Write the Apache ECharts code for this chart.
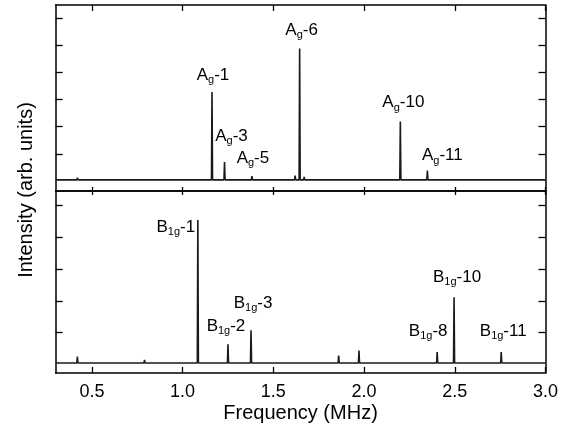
<!DOCTYPE html>
<html><head><meta charset="utf-8">
<script src="https://cdn.jsdelivr.net/npm/echarts@6/dist/echarts.min.js"></script>
<style>html,body{margin:0;padding:0;background:#fff}#c{width:575px;height:438px}</style>
</head><body><div id="c"></div>
<script>
// ---- data ----
const xTicks = [0.5, 1.0, 1.5, 2.0, 2.5, 3.0];
const topYTicks = [1, 2, 3, 4, 5, 6];
const botYTicks = [1, 2, 3, 4, 5];
const baseTop = 0.04;
const baseBot = 0.05;
const agFreq = [1.162, 1.231, 1.382, 1.645, 2.200, 2.349];
const agHeight = [3.28, 0.70, 0.18, 4.89, 2.19, 0.38];
const agName = ['1', '3', '5', '6', '10', '11'];
const agMinorFreq = [0.42, 1.62, 1.67, 2.30];
const agMinorHeight = [0.12, 0.20, 0.15, 0.10];
const b1gFreq = [1.084, 1.250, 1.377, 2.403, 2.496, 2.756];
const b1gHeight = [4.53, 0.64, 1.08, 0.39, 2.11, 0.39];
const b1gName = ['1', '2', '3', '8', '10', '11'];
const b1gMinorFreq = [0.42, 0.79, 1.86, 1.972];
const b1gMinorHeight = [0.25, 0.15, 0.28, 0.44];

// ---- label placement (pixel offsets from peak tops) ----
const agOffsets = [[1, -17], [7, -26], [1, -18], [2, -18], [3, -19], [15, -15]];
const b1gOffsets = [[-22, 7], [-2, -18], [2, -27], [-9, -21], [3, -20], [2, -21]];

const FONT = '"Liberation Sans", Arial, Helvetica, sans-serif';
const INK = '#000';

function spectrum(base, freqs, heights, minorF, minorH) {
  const peaks = freqs.map((f, i) => [f, heights[i]])
    .concat(minorF.map((f, i) => [f, minorH[i]]))
    .sort((a, b) => a[0] - b[0]);
  const hw = 0.003;
  const pts = [[0.3, base]];
  peaks.forEach(([f, h]) => { pts.push([f - hw, base], [f, h], [f + hw, base]); });
  pts.push([3.0, base]);
  return pts;
}

const rich = {
  m: { fontSize: 17, fontFamily: FONT, color: INK, lineHeight: 18, textBorderWidth: 0 },
  s: { fontSize: 11, fontFamily: FONT, color: INK, lineHeight: 12, padding: [10, 0, 0, 0], textBorderWidth: 0 }
};

function labelData(freqs, heights, names, sym, sub, offsets) {
  return freqs.map((f, i) => ({
    value: [f, heights[i]],
    label: { offset: offsets[i], formatter: '{m|' + sym + '}{s|' + sub + '}{m|-' + names[i] + '}' }
  }));
}

const lineStyle = { color: INK, width: 1.5 };
const tickStyle = { color: INK, width: 1.3 };

function xAx(grid, pos, len, labels) {
  const ax = {
    gridIndex: grid, type: 'value', min: 0.3, max: 3.0, position: pos,
    axisLine: { show: true, onZero: false, lineStyle: lineStyle },
    axisTick: { show: true, inside: true, length: len, customValues: xTicks, lineStyle: tickStyle },
    axisLabel: { show: false },
    splitLine: { show: false }
  };
  if (labels) {
    ax.axisLabel = {
      show: true, customValues: xTicks, margin: 10,
      formatter: v => Number(v).toFixed(1),
      fontSize: 18, fontFamily: FONT, color: INK
    };
    ax.name = 'Frequency (MHz)';
    ax.nameLocation = 'middle';
    ax.nameGap = 30;
    ax.nameTextStyle = { fontSize: 20, fontFamily: FONT, color: INK };
  }
  return ax;
}

function yAx(grid, pos, min, max, ticks) {
  return {
    gridIndex: grid, type: 'value', min: min, max: max, position: pos,
    axisLine: { show: true, onZero: false, lineStyle: lineStyle },
    axisTick: { show: true, inside: true, length: 7, customValues: ticks, lineStyle: tickStyle },
    axisLabel: { show: false },
    splitLine: { show: false }
  };
}

const chart = echarts.init(document.getElementById('c'), null, { renderer: 'canvas' });
chart.setOption({
  animation: false,
  backgroundColor: '#fff',
  grid: [
    { left: 55.6, top: 5, width: 489.9, height: 186 },
    { left: 55.6, top: 191, width: 489.9, height: 182 }
  ],
  xAxis: [
    xAx(0, 'bottom', 4, false),
    xAx(0, 'top', 6, false),
    xAx(1, 'bottom', 6, true),
    xAx(1, 'top', 4, false)
  ],
  yAxis: [
    yAx(0, 'left', -0.37, 6.49, topYTicks),
    yAx(0, 'right', -0.37, 6.49, topYTicks),
    yAx(1, 'left', -0.263, 5.44, botYTicks),
    yAx(1, 'right', -0.263, 5.44, botYTicks)
  ],
  graphic: [{
    type: 'text', x: 26, y: 190, rotation: Math.PI / 2,
    style: { text: 'Intensity (arb. units)', fontSize: 20, fontFamily: FONT, fill: INK, align: 'center', verticalAlign: 'middle' }
  }],
  series: [
    {
      type: 'line', xAxisIndex: 0, yAxisIndex: 0, showSymbol: false, symbol: 'none',
      lineStyle: { color: '#1a1a1a', width: 1.6 },
      data: spectrum(baseTop, agFreq, agHeight, agMinorFreq, agMinorHeight)
    },
    {
      type: 'line', xAxisIndex: 2, yAxisIndex: 2, showSymbol: false, symbol: 'none',
      lineStyle: { color: '#1a1a1a', width: 1.6 },
      data: spectrum(baseBot, b1gFreq, b1gHeight, b1gMinorFreq, b1gMinorHeight)
    },
    {
      type: 'scatter', xAxisIndex: 0, yAxisIndex: 0, symbolSize: 0, silent: true, z: 5,
      itemStyle: { opacity: 1 },
      label: { show: true, position: 'inside', color: INK, opacity: 1, textBorderWidth: 0, rich: rich },
      data: labelData(agFreq, agHeight, agName, 'A', 'g', agOffsets)
    },
    {
      type: 'scatter', xAxisIndex: 2, yAxisIndex: 2, symbolSize: 0, silent: true, z: 5,
      itemStyle: { opacity: 1 },
      label: { show: true, position: 'inside', color: INK, opacity: 1, textBorderWidth: 0, rich: rich },
      data: labelData(b1gFreq, b1gHeight, b1gName, 'B', '1g', b1gOffsets)
    }
  ]
});
</script>
</body></html>
